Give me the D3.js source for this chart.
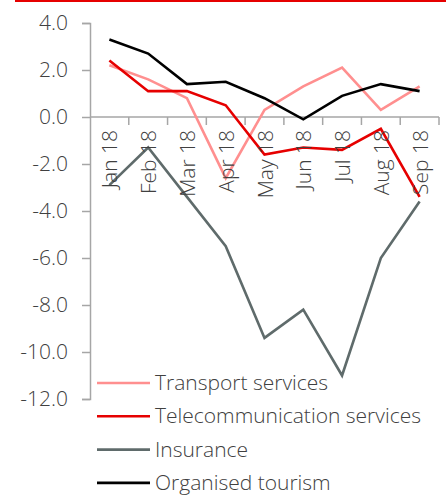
<!DOCTYPE html>
<html>
<head>
<meta charset="utf-8">
<script src="https://cdn.jsdelivr.net/npm/d3@7"></script>
<style>
  body { margin: 0; background: #fff; }
  svg { display: block; font-family: "Open Sans", sans-serif; font-weight: 300; }
</style>
</head>
<body>
<div id="chart"></div>
<script>
// Data
const months = ["Jan 18", "Feb 18", "Mar 18", "Apr 18", "May 18", "Jun 18", "Jul 18", "Aug 18", "Sep 18"];
const transport = [2.2, 1.6, 0.8, -2.6, 0.3, 1.3, 2.1, 0.3, 1.3];
const telecom = [2.4, 1.1, 1.1, 0.5, -1.6, -1.3, -1.4, -0.5, -3.4];
const insurance = [-2.9, -1.3, -3.4, -5.5, -9.4, -8.2, -11.0, -6.0, -3.6];
const tourism = [3.3, 2.7, 1.4, 1.5, 0.8, -0.1, 0.9, 1.4, 1.1];
const yTicks = [4, 2, 0, -2, -4, -6, -8, -10, -12];

const series = [
    { name: "Transport services", values: transport, color: "#ff8f8f" },
    { name: "Telecommunication services", values: telecom, color: "#e60000" },
    { name: "Insurance", values: insurance, color: "#5f6b6b" },
    { name: "Organised tourism", values: tourism, color: "#000000" }
];

const width = 446, height = 496;
const fontSize = "21px";
const svg = d3.select("#chart").append("svg")
    .attr("width", width)
    .attr("height", height);

// red rule across the top
svg.append("line")
    .attr("x1", 15).attr("x2", width)
    .attr("y1", 1).attr("y2", 1)
    .attr("stroke", "#e60000")
    .attr("stroke-width", 2);

const x = d3.scaleBand().domain(months).range([90, 439]);
const y = d3.scaleLinear().domain([-12, 4]).range([399, 23]);

// y axis
const yAxis = svg.append("g")
    .attr("transform", "translate(90,0)")
    .call(d3.axisLeft(y).tickValues(yTicks).tickSize(8).tickSizeOuter(8).tickPadding(14));
yAxis.select(".domain").attr("stroke", "#a6a6a6").attr("stroke-width", 1.5);
yAxis.selectAll(".tick line").attr("stroke", "#a6a6a6").attr("stroke-width", 1.5);
yAxis.selectAll(".tick text")
    .attr("fill", "#404040")
    .style("font-size", fontSize)
    .style("font-family", "'Open Sans', sans-serif")
    .style("font-weight", 300)
    .text(d => d.toFixed(1));

// x axis at zero
const xAxisG = svg.append("g").attr("transform", `translate(0,${y(0)})`);
xAxisG.append("line")
    .attr("x1", 90).attr("x2", 439)
    .attr("stroke", "#a6a6a6").attr("stroke-width", 1.5);
xAxisG.selectAll(".xtick")
    .data(months)
    .enter().append("line")
    .attr("class", "xtick")
    .attr("x1", d => x(d) + x.step())
    .attr("x2", d => x(d) + x.step())
    .attr("y1", 0).attr("y2", 8)
    .attr("stroke", "#a6a6a6").attr("stroke-width", 1.5);

// lines
const line = d3.line()
    .x((d, i) => x(months[i]) + x.bandwidth() / 2)
    .y(d => y(d));

svg.selectAll(".series")
    .data(series)
    .enter().append("path")
    .attr("class", "series")
    .attr("d", d => line(d.values))
    .attr("fill", "none")
    .attr("stroke", d => d.color)
    .attr("stroke-width", 2.6)
    .attr("stroke-linejoin", "miter");

// month labels, rotated (drawn on top of the lines)
svg.selectAll(".xlabel")
    .data(months)
    .enter().append("text")
    .attr("class", "xlabel")
    .attr("transform", d => `translate(${x(d) + x.bandwidth() / 2 + 8},${y(0) + 13}) rotate(-90)`)
    .attr("text-anchor", "end")
    .attr("fill", "#404040")
    .style("font-size", fontSize)
    .text(d => d);

// legend
const legend = svg.selectAll(".legend")
    .data(series)
    .enter().append("g")
    .attr("class", "legend")
    .attr("transform", (d, i) => `translate(97,${383 + i * 33.3})`);

legend.append("line")
    .attr("x1", 0).attr("x2", 53)
    .attr("stroke", d => d.color)
    .attr("stroke-width", 2.6);

legend.append("text")
    .attr("x", 58)
    .attr("y", 7)
    .attr("fill", "#404040")
    .style("font-size", fontSize)
    .text(d => d.name);
</script>
</body>
</html>
